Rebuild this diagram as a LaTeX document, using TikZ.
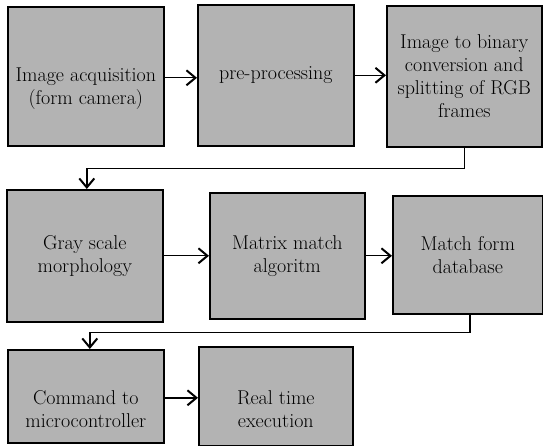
\documentclass[tikz,border=0pt]{standalone}
\usetikzlibrary{arrows.meta}
\definecolor{boxgray}{RGB}{179,179,179}
\newcommand{\dropline}{\rule{0pt}{39pt}}
\tikzset{
  blk/.style={draw=black, line width=1.6pt, fill=boxgray, anchor=north west,
    inner sep=0pt, align=center, font=\fontsize{20}{23}\selectfont},
  arr/.style={draw=black, line width=1.4pt, -{Straight Barb[length=9pt,width=15pt,line width=2pt]}}
}
\begin{document}
\begin{tikzpicture}[x=1pt,y=1pt]
\useasboundingbox (0,0) rectangle (543,-446);
\node[blk, minimum width=156pt, minimum height=139pt] (b1) at (7,-6) {\dropline Image acquisition\\(form camera)};
\node[blk, minimum width=156pt, minimum height=141pt] (b2) at (197,-4) {pre-processing};
\node[blk, minimum width=155pt, minimum height=141pt] (b3) at (386,-5) {Image to binary\\conversion and\\splitting of RGB\\frames};
\node[blk, minimum width=156pt, minimum height=132pt] (b4) at (6,-189) {Gray scale\\morphology};
\node[blk, minimum width=155pt, minimum height=126pt] (b5) at (209,-192) {Matrix match\\algoritm};
\node[blk, minimum width=150pt, minimum height=118pt] (b6) at (392,-195) {Match form\\database};
\node[blk, minimum width=156pt, minimum height=93pt] (b7) at (7,-349) {\dropline Command to\\microcontroller};
\node[blk, minimum width=154pt, minimum height=99pt] (b8) at (198,-346) {\dropline Real time\\execution};
\draw[arr] ([yshift=-1.5pt]b1.east) -- ([yshift=-1.5pt]b1.east -| b2.west);
\draw[arr] (b2.east) -- (b2.east -| b3.west);
\draw[arr] (b3.south) -- ++(0,-21) -| ([xshift=2pt]b4.north);
\draw[arr] (b4.east) -- (b4.east -| b5.west);
\draw[arr] (b5.east) -- (b5.east -| b6.west);
\draw[arr] ([xshift=2pt]b6.south) -- ++(0,-18) -| ([xshift=4pt]b7.north);
\draw[arr] ([yshift=-1.5pt]b7.east) -- ([yshift=-1.5pt]b7.east -| b8.west);
\end{tikzpicture}
\end{document}
